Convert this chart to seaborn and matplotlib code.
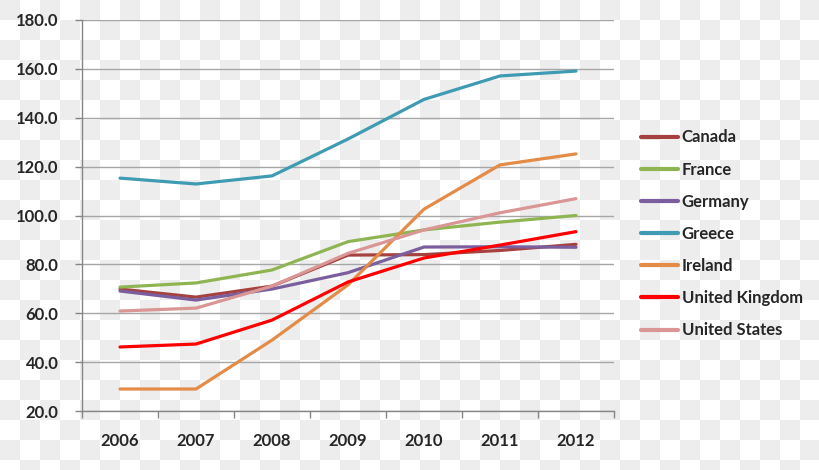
import seaborn as sns
import matplotlib.pyplot as plt
import matplotlib.ticker as mticker
import numpy as np
import pandas as pd

years = ['2006', '2007', '2008', '2009', '2010', '2011', '2012']
canada = [69.9, 66.6, 71.1, 83.8, 84.0, 85.7, 88.2]
france = [70.7, 72.4, 77.7, 89.3, 94.1, 97.3, 100.0]
germany = [69.1, 65.4, 69.9, 76.6, 87.1, 87.2, 87.0]
greece = [115.3, 112.9, 116.2, 131.3, 147.5, 157.1, 159.1]
ireland = [29.0, 29.0, 49.0, 71.6, 102.6, 120.7, 125.2]
uk = [46.2, 47.4, 57.2, 72.8, 82.6, 87.9, 93.4]
us = [60.9, 62.1, 71.1, 84.5, 94.1, 101.1, 106.9]

series = {
    'Canada': canada,
    'France': france,
    'Germany': germany,
    'Greece': greece,
    'Ireland': ireland,
    'United Kingdom': uk,
    'United States': us,
}
colors = ['#A5413F', '#8FB553', '#7A5E9E', '#3F9BB2', '#E38B47', '#FF0000', '#D99694']

rows = []
for name, vals in series.items():
    for i, v in enumerate(vals):
        rows.append({'pos': i, 'value': v, 'country': name})
df = pd.DataFrame(rows)

sns.set_style('white')
plt.rcParams['font.family'] = ['Lato', 'DejaVu Sans']

fig = plt.figure(figsize=(8.2, 4.7), dpi=100)

# checkered transparent-look background
bg = fig.add_axes([0, 0, 1, 1], zorder=-10)
cols = int(np.ceil(820 / 20))
rws = int(np.ceil(470 / 20))
board = (np.add.outer(np.arange(rws), np.arange(cols)) % 2 == 0).astype(float)
bg.imshow(board, cmap=plt.matplotlib.colors.ListedColormap(['#FFFFFF', '#EDEDED']),
          extent=[0, cols * 20, rws * 20, 0], interpolation='nearest', aspect='auto')
bg.set_xlim(0, 820)
bg.set_ylim(470, 0)
bg.axis('off')

ax = fig.add_axes([82 / 820, 1 - 411 / 470, 532 / 820, 391 / 470])
ax.patch.set_alpha(0)

sns.lineplot(data=df, x='pos', y='value', hue='country', palette=colors,
             linewidth=2.3, ax=ax, legend=True)

ax.set_xlim(-0.5, 6.5)
ax.set_ylim(20, 180)
ax.yaxis.set_major_locator(mticker.MultipleLocator(20))
ax.yaxis.set_major_formatter(mticker.FormatStrFormatter('%.1f'))
ax.grid(axis='y', color='#A6A6A6', linewidth=1)
ax.set_axisbelow(True)

ax.set_xticks(np.arange(-0.5, 7, 1))
ax.set_xticklabels([])
ax.set_xticks(np.arange(7), minor=True)
ax.set_xticklabels(years, minor=True)
ax.tick_params(axis='x', which='major', direction='out', length=5, color='#868686', width=1)
ax.tick_params(axis='x', which='minor', length=0, pad=16, labelsize=12)
ax.tick_params(axis='y', direction='out', length=5, color='#868686', width=1,
               pad=12, labelsize=12)
ax.tick_params(axis='x', which='major', bottom=True)
ax.tick_params(axis='y', left=True)
for lab in ax.get_xticklabels(minor=True) + ax.get_yticklabels():
    lab.set_fontweight('bold')

for s in ['top', 'right']:
    ax.spines[s].set_visible(False)
for s in ['left', 'bottom']:
    ax.spines[s].set_color('#868686')
    ax.spines[s].set_linewidth(1)

ax.set_xlabel('')
ax.set_ylabel('')

handles, labels = ax.get_legend_handles_labels()
leg = ax.legend(handles, labels, loc='center left', bbox_to_anchor=(641 / 820, 1 - 234 / 470),
                bbox_transform=fig.transFigure, frameon=False, borderpad=0, borderaxespad=0,
                handlelength=2.2, handletextpad=0.25, labelspacing=0.97,
                prop={'size': 12, 'weight': 'bold'})
for line in leg.get_lines():
    line.set_linewidth(3)

fig.savefig('out.png', dpi=100)
